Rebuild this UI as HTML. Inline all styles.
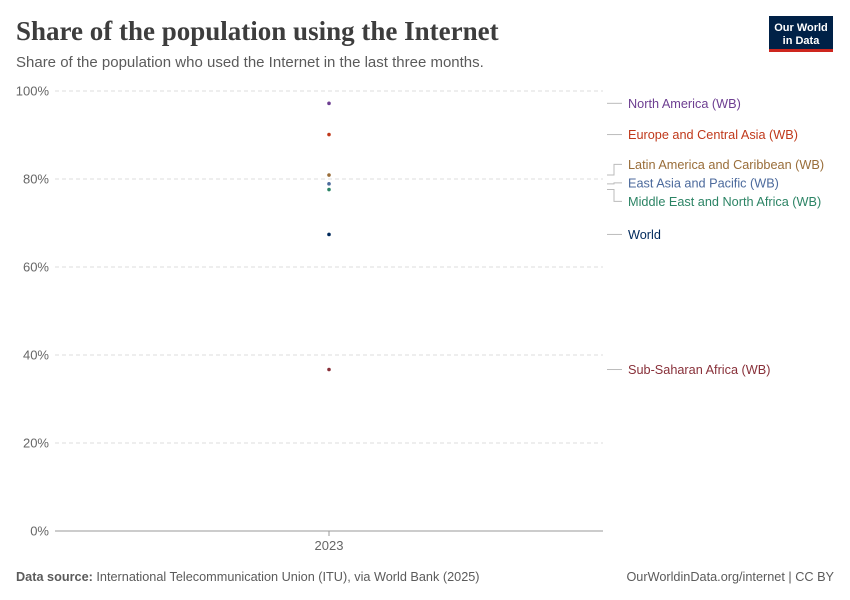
<!DOCTYPE html>
<html><head><meta charset="utf-8"><style>
body{margin:0;background:#fff;font-family:"Liberation Sans",sans-serif}
svg{display:block}
</style></head><body>
<svg width="850" height="600" xmlns="http://www.w3.org/2000/svg" id="chart">
<text x="16" y="40" font-family="Liberation Serif,serif" font-size="27" font-weight="bold" fill="#3d3d3d">Share of the population using the Internet</text>
<text x="16" y="67" font-size="15" fill="#5b5b5b">Share of the population who used the Internet in the last three months.</text>
<g>
<rect x="769" y="16" width="64" height="34" fill="#002147"/>
<rect x="769" y="49" width="64" height="3" fill="#ce261e"/>
<text x="801" y="31" font-size="11" fill="#fff" text-anchor="middle" font-weight="bold">Our World</text>
<text x="801" y="44" font-size="11" fill="#fff" text-anchor="middle" font-weight="bold">in Data</text>
</g>
<g id="grid"></g><g id="marks"></g><g id="labels"></g>
<text x="16" y="581" font-size="12.7" fill="#5b5b5b"><tspan font-weight="bold">Data source:</tspan> International Telecommunication Union (ITU), via World Bank (2025)</text>
<text x="834" y="581" font-size="12.7" fill="#5b5b5b" text-anchor="end">OurWorldinData.org/internet | CC BY</text>
</svg>
<script>
const categories=["2023"];
const seriesNames=["North America (WB)","Europe and Central Asia (WB)","Latin America and Caribbean (WB)","East Asia and Pacific (WB)","Middle East and North Africa (WB)","World","Sub-Saharan Africa (WB)"];
const seriesValues=[97.2,90.1,80.9,78.9,77.6,67.4,36.7];
const seriesColors=["#6d3e91","#c0391b","#996d39","#4c6a9c","#2c8465","#00295b","#883039"];
const yTicks=[0,20,40,60,80,100];
const NS="http://www.w3.org/2000/svg";
const y=v=>531-v*4.4;
const x=i=>329;
function mk(t,a,p){const e=document.createElementNS(NS,t);for(const k in a)e.setAttribute(k,a[k]);p.appendChild(e);return e;}
const grid=document.getElementById('grid'),marks=document.getElementById('marks'),labels=document.getElementById('labels');
yTicks.forEach(t=>{
 const l=mk('line',{x1:55,x2:603,y1:y(t),y2:y(t),stroke:t?'#ddd':'#999','stroke-dasharray':t?'4,3':'none'},grid);
 
 
 const tx=mk('text',{x:49,y:y(t)+4.5,'font-size':13,fill:'#666','text-anchor':'end'},grid);tx.textContent=t+'%';
 
 
});
categories.forEach((c,i)=>{
 mk('line',{x1:x(i),x2:x(i),y1:531,y2:536,stroke:'#999'},grid);
 const tx=mk('text',{x:x(i),y:550,'font-size':13,fill:'#666','text-anchor':'middle'},grid);tx.textContent=c;
 
 
});
const ly=seriesValues.map(v=>y(v));
const order=ly.map((v,i)=>i).sort((a,b)=>ly[a]-ly[b]);
const pos=ly.slice();
for(let it=0;it<50;it++){for(let k=1;k<order.length;k++){const a=order[k-1],b=order[k];const d=pos[b]-pos[a];if(d<18.5){const s=(18.5-d)/2;pos[a]-=s;pos[b]+=s;}}}
seriesValues.forEach((v,i)=>{
 const c=mk('circle',{cx:x(0),cy:y(v),r:1.8,fill:seriesColors[i]},marks);
 
 
 const p=mk('path',{d:`M607,${y(v)}H614V${pos[i]}H622`,fill:'none',stroke:'#bbb'},labels);
 
 
 const t=mk('text',{x:628,y:pos[i]+4.5,'font-size':12.7,fill:seriesColors[i]},labels);t.textContent=seriesNames[i];
 
 
});
</script>
</body></html>
